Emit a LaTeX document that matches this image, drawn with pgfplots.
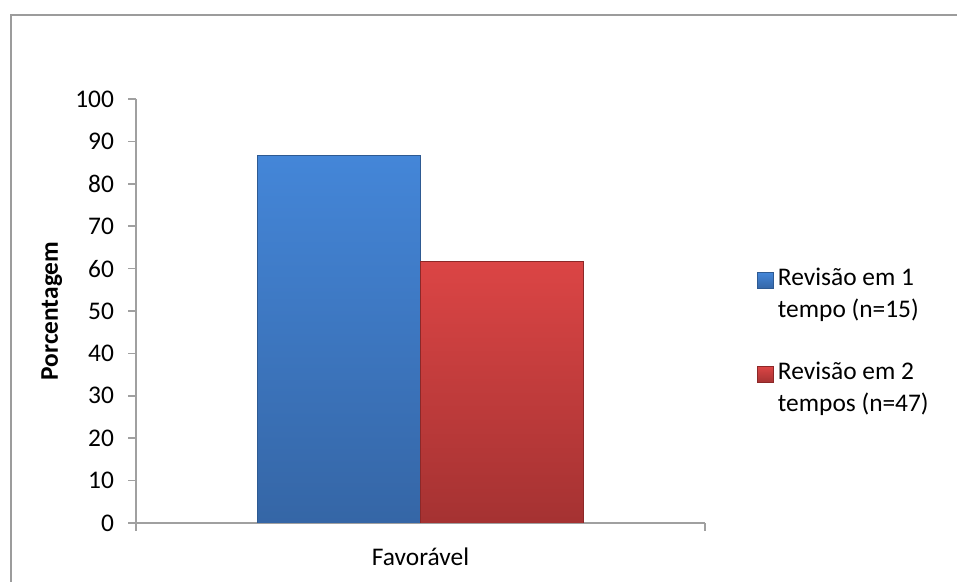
\documentclass[border=0pt]{standalone}
\usepackage{pgfplots}
\pgfplotsset{compat=1.18}
\usepackage{fontspec}
\setmainfont{Carlito}
\definecolor{axgray}{HTML}{A0A0A0}
\definecolor{framegray}{HTML}{9C9C9C}
\definecolor{bluetop}{HTML}{4486D8}
\definecolor{bluebot}{HTML}{3566A6}
\definecolor{blueedge}{HTML}{2E5A92}
\definecolor{redtop}{HTML}{DB4545}
\definecolor{redbot}{HTML}{A53232}
\definecolor{rededge}{HTML}{8C2828}
\begin{document}
\begin{tikzpicture}
\useasboundingbox (0pt,0pt) rectangle (478.5pt,291pt);
\clip (0pt,0pt) rectangle (478.5pt,291pt);
\draw[framegray, line width=0.8pt] (5.5pt,283.5pt) rectangle (495pt,-15pt);
\begin{axis}[
  at={(68pt,29.5pt)}, anchor=south west,
  scale only axis, width=284.5pt, height=212pt,
  xmin=0, xmax=1, ymin=0, ymax=100,
  axis x line*=bottom, axis y line*=left,
  axis line style={axgray, line width=0.75pt, -},
  tick align=outside, major tick length=4pt,
  tick style={axgray, line width=0.75pt},
  ytick={0,10,...,100},
  xtick={0,1}, xticklabels={},
  /pgf/number format/assume math mode=true,
  ticklabel style={font=\fontsize{12.7}{15}\selectfont},
  yticklabel style={xshift=-3.5pt},
  label style={font=\fontsize{12.7}{15}\selectfont},
  xlabel={Favorável},
  xlabel style={at={(axis description cs:0.5,0)}, anchor=center, yshift=-17pt},
  ylabel={\textbf{Porcentagem}},
  ylabel style={at={(axis description cs:-0.148,0.5)}, anchor=center},
  ybar, bar width=81.5pt,
  legend style={at={(axis description cs:1.091,0.62)}, anchor=north west,
    draw=none, fill=none, inner sep=0pt, column sep=0pt, row sep=0pt,
    font=\fontsize{12.7}{15}\selectfont,
    cells={anchor=base west, inner ysep=0pt, inner xsep=3pt, text height=10.5pt, text depth=4.5pt}},
  legend image code/.code={\path[#1] (0pt,-1.5pt) rectangle (8pt,6.5pt);},
]
\addplot[ybar, bar shift=-40.75pt, draw=blueedge, line width=0.4pt, top color=bluetop, bottom color=bluebot] coordinates {(0.5,86.7)};
\addlegendentry{Revisão em 1}
\addlegendimage{empty legend}
\addlegendentry{tempo (n=15)}
\addlegendimage{empty legend}
\addlegendentry[text height=6.5pt, text depth=4.5pt]{\mbox{}}
\addplot[ybar, bar shift=40.75pt, draw=rededge, line width=0.4pt, top color=redtop, bottom color=redbot] coordinates {(0.5,61.7)};
\addlegendentry{Revisão em 2}
\addlegendimage{empty legend}
\addlegendentry{tempos (n=47)}
\end{axis}
\end{tikzpicture}
\end{document}
